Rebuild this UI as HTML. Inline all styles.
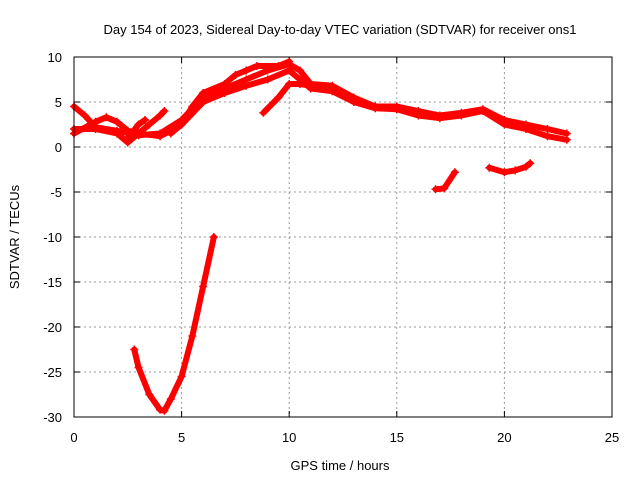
<!DOCTYPE html>
<html><head><meta charset="utf-8"><style>
body{margin:0;background:#fff}
svg text{font-family:"Liberation Sans",sans-serif;font-size:13px;fill:#000}
</style></head><body>
<svg id="chart" width="640" height="480">
<text x="340" y="34" text-anchor="middle">Day 154 of 2023, Sidereal Day-to-day VTEC variation (SDTVAR) for receiver ons1</text>
<g id="grid"></g>
<g id="ticks"></g>
<g id="marks"></g>
<rect x="74" y="57" width="538" height="360" fill="none" stroke="#000" stroke-width="1"/>
<text x="340" y="470" text-anchor="middle">GPS time / hours</text>
<text transform="translate(19,237) rotate(-90)" text-anchor="middle">SDTVAR / TECUs</text>
</svg>
<script>
const xTicks=[0,5,10,15,20,25];
const yTicks=[10,5,0,-5,-10,-15,-20,-25,-30];
const track1=[[0,4.5],[0.5,3.5],[1,2.2],[2,1.8],[3,1.3],[4,1.5],[5,3],[6,5.5],[7,6.5],[8,7.5],[9,8.5],[10,9.2],[10.5,8.5],[11,7],[12,6.8],[13,5.5],[14,4.5],[15,4.5],[16,4],[17,3.5],[18,3.8],[19,4.2],[20,3],[21,2.5],[22,2],[22.9,1.5]];
const track2=[[0,1.5],[1,2.8],[1.5,3.3],[2,2.8],[2.5,1.8],[3,1.5],[4,1.2],[4.5,1.8],[5,2.5],[6,5],[7,6],[8,6.8],[9,7.5],[10,8.5],[11,6.5],[12,6.2],[13,5],[14,4.3],[15,4.2],[16,3.5],[17,3.2],[18,3.5],[19,4],[20,2.5],[21,2],[22,1.2],[22.9,0.8]];
const track3=[[0,2],[1,2],[2,1.5],[2.5,0.5],[3,1.5],[3.5,2.5],[4,3.5],[4.2,4]];
const track4=[[2.5,1],[3,2.5],[3.3,3]];
const track5=[[4.5,1.5],[5,2.5],[5.5,4.5],[6,6],[7,7],[7.5,8],[8,8.5],[8.5,9],[9.5,9],[10,9.5]];
const track6=[[8.8,3.8],[9.5,5.5],[10,7],[10.5,7],[11,6.8]];
const track7=[[16.8,-4.7],[17.2,-4.6],[17.7,-2.8]];
const track8=[[19.3,-2.3],[20,-2.8],[20.5,-2.6],[21,-2.2],[21.2,-1.8]];
const track9=[[2.8,-22.5],[3,-24.5],[3.5,-27.5],[4,-29.2],[4.2,-29.3],[4.5,-28],[5,-25.5],[5.5,-21],[6,-15.5],[6.5,-10]];
const tracks=[track1,track2,track3,track4,track5,track6,track7,track8,track9];
const NS='http://www.w3.org/2000/svg';
const X=h=>74+h*538/25, Y=v=>57+(10-v)*9;
const grid=document.getElementById('grid'),ticks=document.getElementById('ticks'),marks=document.getElementById('marks');
function mk(tag,a,p){const e=document.createElementNS(NS,tag);for(const k in a)e.setAttribute(k,a[k]);p.appendChild(e);return e;}
xTicks.forEach(t=>{
 if(t>0&&t<25){const g=mk('line',{x1:X(t),x2:X(t),y1:57,y2:417,stroke:'#999','stroke-dasharray':'2,3'},grid);
 
 }
 mk('line',{x1:X(t),x2:X(t),y1:417,y2:411,stroke:'#000'},ticks);
 mk('line',{x1:X(t),x2:X(t),y1:57,y2:63,stroke:'#000'},ticks);
 const l=mk('text',{x:X(t),y:442,'text-anchor':'middle'},ticks);l.textContent=t;
 
 
});
yTicks.forEach(t=>{
 if(t<10&&t>-30){const g=mk('line',{x1:74,x2:612,y1:Y(t),y2:Y(t),stroke:'#999','stroke-dasharray':'2,3'},grid);
 
 }
 mk('line',{x1:74,x2:80,y1:Y(t),y2:Y(t),stroke:'#000'},ticks);
 mk('line',{x1:606,x2:612,y1:Y(t),y2:Y(t),stroke:'#000'},ticks);
 const l=mk('text',{x:62,y:Y(t)+5,'text-anchor':'end'},ticks);l.textContent=t;
 
 
});
tracks.forEach(tr=>{
 const p=mk('polyline',{points:tr.map(d=>X(d[0])+','+Y(d[1])).join(' '),fill:'none',stroke:'#f00','stroke-width':6,'stroke-linejoin':'round','stroke-linecap':'round'},marks);
 
 
 tr.forEach(d=>{const x=X(d[0]),y=Y(d[1]);
  const m=mk('path',{d:`M${x-4},${y}h8M${x},${y-4}v8`,stroke:'#f00','stroke-width':1.5},marks);
  
  });
});
</script>
</body></html>
